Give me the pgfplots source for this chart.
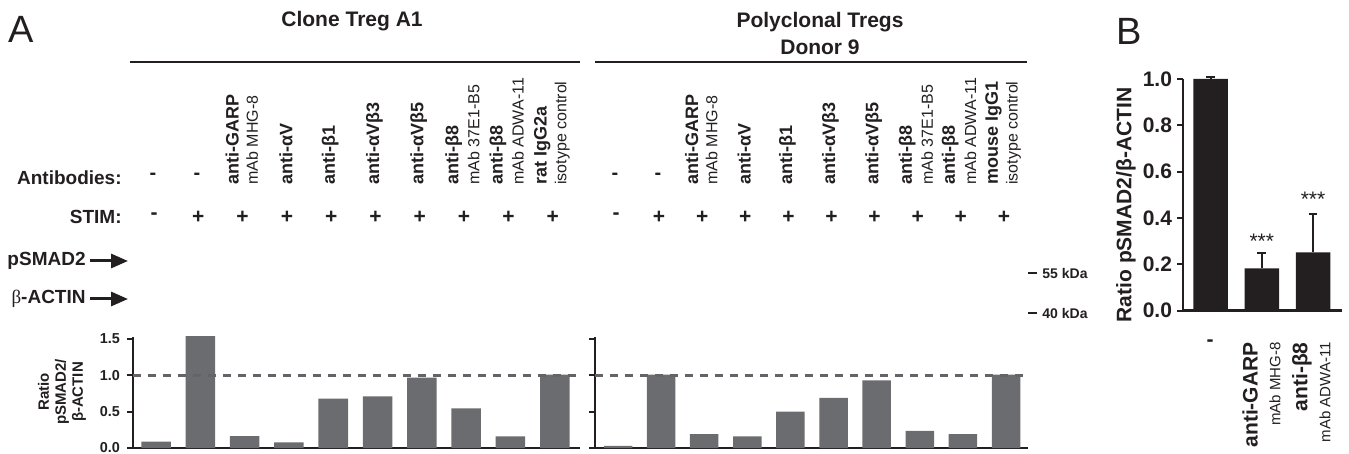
\documentclass[border=0pt]{standalone}
\usepackage{fontspec}
\setmainfont{Liberation Sans}
\newfontfamily\seriffont{Liberation Serif}
\usepackage{pgfplots}
\pgfplotsset{compat=1.18}
\usetikzlibrary{arrows.meta}

\definecolor{ink}{HTML}{231F20}
\definecolor{bargray}{HTML}{6B6C70}
\definecolor{dashgray}{HTML}{636368}

\newcommand\fs[2]{\fontsize{#1}{#2}\selectfont}

% one column label: rotated bold name, optional regular second line
\newcommand\collab[3]{%
  \if\relax\detokenize{#3}\relax
    \node[rotate=90,anchor=west,inner sep=0,font=\bfseries\fs{9}{10}] at ({#1-3},185) {#2};
  \else
    \node[rotate=90,anchor=west,inner sep=0,font=\bfseries\fs{9}{10}] at ({#1-12.5},185) {#2};
    \node[rotate=90,anchor=west,inner sep=0,font=\fs{8}{9}] at ({#1+7.5},185) {#3};
  \fi}

\pgfplotsset{
  wb/.style={
    scale only axis, clip=false,
    axis x line*=bottom, axis y line*=left,
    axis line style={line width=1.2pt, ink},
    xtick=\empty,
    tick align=outside, major tick length=3pt,
    tick style={line width=1pt, ink},
    ybar, bar shift=0pt, ymin=0,
    /pgf/number format/assume math mode=true,
    /pgf/number format/.cd, fixed, fixed zerofill, precision=1,
  },
}

\begin{document}
\begin{tikzpicture}

% ---- panel A, clone Treg A1
\begin{axis}[wb, at={(66.5pt,-224pt)}, anchor=south west,
  width=223.5pt, height=55.6pt,
  xmin=-0.52, xmax=9.57, ymax=1.53, bar width=0.666,
  ytick={0,0.5,1,1.5},
  ticklabel style={font=\bfseries\fs{7.2}{8}, text=ink}]
\addplot[fill=bargray, draw=none] coordinates {
  (0,0.087) (1,1.54) (2,0.165) (3,0.078) (4,0.68)
  (5,0.71) (6,0.97) (7,0.545) (8,0.16) (9,1.01)};
\addplot[sharp plot, dashgray, line width=1.2pt, dash pattern=on 4pt off 3.5pt]
  coordinates {(-0.52,1) (9.57,1)};
\end{axis}

% ---- panel A, polyclonal Tregs donor 9
\begin{axis}[wb, at={(297.5pt,-224pt)}, anchor=south west,
  width=216.5pt, height=55.6pt,
  xmin=-0.534, xmax=9.51, ymax=1.53, bar width=0.661,
  ytick={0,0.5,1,1.5}, yticklabels={}]
\addplot[fill=bargray, draw=none] coordinates {
  (0,0.03) (1,1.01) (2,0.19) (3,0.16) (4,0.50)
  (5,0.69) (6,0.93) (7,0.235) (8,0.19) (9,1.01)};
\addplot[sharp plot, dashgray, line width=1.2pt, dash pattern=on 4pt off 3.5pt]
  coordinates {(-0.534,1) (9.51,1)};
\end{axis}

% ---- panel B
\begin{axis}[wb, at={(591.5pt,-155.35pt)}, anchor=south west,
  width=79.5pt, height=115.85pt,
  xmin=-0.537, xmax=2.566, ymax=1, bar width=0.673,
  ytick={0,0.2,0.4,0.6,0.8,1.0},
  yticklabel style={font=\bfseries\fs{10.5}{12}, text=ink, xshift=1pt}]
\addplot[fill=ink, draw=none,
  error bars/.cd, y dir=plus, y explicit,
  error bar style={line width=1pt, ink},
  error mark options={rotate=90, mark size=2.2pt, line width=1pt, ink}]
  coordinates {(0,1.0) +- (0,0.007) (1,0.183) +- (0,0.065) (2,0.252) +- (0,0.164)};
\node[font=\fs{10.5}{12}, text=ink] at (axis cs:1,0.30) {***};
\node[font=\fs{10.5}{12}, text=ink] at (axis cs:2,0.48) {***};
\end{axis}

\begin{scope}[x=0.5pt, y=-0.5pt, text=ink]
% panel letters
\node[font=\fs{19}{22}] at (21,29) {A};
\node[font=\fs{19}{22}] at (1129,31) {B};

% group titles and lines
\node[font=\bfseries\fs{10.5}{12}] at (352,21) {Clone Treg A1};
\node[font=\bfseries\fs{10.5}{12}] at (820,22) {Polyclonal Tregs};
\node[font=\bfseries\fs{10.5}{12}] at (820,47) {Donor 9};
\draw[ink, line width=1.2pt] (130,62) -- (580,62);
\draw[ink, line width=1.2pt] (595,62) -- (1027,62);

% row labels
\node[anchor=east, inner sep=0, font=\bfseries\fs{9.5}{11}] at (122,178) {Antibodies:};
\node[anchor=east, inner sep=0, font=\bfseries\fs{9.5}{11}] at (122,217) {STIM:};

% column labels, clone Treg A1
\node[font=\bfseries\fs{10}{11}] at (153,176) {-};
\node[font=\bfseries\fs{10}{11}] at (197,176) {-};
\collab{244.6}{anti-GARP}{mAb MHG-8}
\collab{288.9}{anti-αV}{}
\collab{333.2}{anti-β1}{}
\collab{377.5}{anti-αVβ3}{}
\collab{421.8}{anti-αVβ5}{}
\collab{466.1}{anti-β8}{mAb 37E1-B5}
\collab{510.4}{anti-β8}{mAb ADWA-11}
\collab{554.7}{rat IgG2a}{isotype control}

% column labels, polyclonal Tregs
\node[font=\bfseries\fs{10}{11}] at (615,176) {-};
\node[font=\bfseries\fs{10}{11}] at (658,176) {-};
\collab{704.2}{anti-GARP}{mAb MHG-8}
\collab{747.3}{anti-αV}{}
\collab{790.4}{anti-β1}{}
\collab{833.5}{anti-αVβ3}{}
\collab{876.6}{anti-αVβ5}{}
\collab{919.7}{anti-β8}{mAb 37E1-B5}
\collab{962.8}{anti-β8}{mAb ADWA-11}
\collab{1005.9}{mouse IgG1}{isotype control}

% STIM row
\foreach \x [count=\i] in {156,200.3,244.6,288.9,333.2,377.5,421.8,466.1,510.4,554.7,
                            618,661.1,704.2,747.3,790.4,833.5,876.6,919.7,962.8,1005.9}{
  \ifnum\i=1 \node[font=\bfseries\fs{10.5}{11}] at ({\x-2},216) {-};
  \else\ifnum\i=11 \node[font=\bfseries\fs{10.5}{11}] at ({\x-2},216) {-};
  \else \node[font=\bfseries\fs{10.5}{11}] at ({\x-2},217) {+};
  \fi\fi
}

% blot labels
\node[anchor=east, inner sep=0, font=\bfseries\fs{9.5}{11}] at (86,261) {pSMAD2};
\node[anchor=east, inner sep=0, font=\bfseries\fs{9.5}{11}] at (86,299) {{\mdseries\seriffont β}-ACTIN};
\draw[ink, line width=1.5pt, -{Triangle[length=8.5pt,width=7pt]}] (90,261) -- (128,261);
\draw[ink, line width=1.5pt, -{Triangle[length=8.5pt,width=7pt]}] (90,299) -- (128,299);

% size markers
\draw[ink, line width=1.3pt] (1028,273) -- (1037,273);
\draw[ink, line width=1.3pt] (1028,313) -- (1037,313);
\node[anchor=west, inner sep=0, font=\bfseries\fs{7}{8}] at (1042,273) {55 kDa};
\node[anchor=west, inner sep=0, font=\bfseries\fs{7}{8}] at (1042,313) {40 kDa};

% axis titles
\node[rotate=90, align=center, font=\bfseries\fs{7.5}{8.5}] at (62,392) {Ratio\\pSMAD2/\\β-ACTIN};
\node[rotate=90, font=\bfseries\fs{10.5}{12}] at (1126,205) {Ratio pSMAD2/β-ACTIN};

% panel B categories
\node[font=\bfseries\fs{10.5}{12}] at (1210,343) {-};
\node[rotate=90, anchor=east, inner sep=0, font=\bfseries\fs{10.5}{12}] at (1250,342) {anti-GARP};
\node[rotate=90, anchor=east, inner sep=0, font=\fs{7.5}{9}] at (1275,342) {mAb MHG-8};
\node[rotate=90, anchor=east, inner sep=0, font=\bfseries\fs{10.5}{12}] at (1302,342) {anti-β8};
\node[rotate=90, anchor=east, inner sep=0, font=\fs{7.5}{9}] at (1325,342) {mAb ADWA-11};

\pgfresetboundingbox
\path[use as bounding box] (0,0) rectangle (1349,454);
\end{scope}
\end{tikzpicture}
\end{document}
